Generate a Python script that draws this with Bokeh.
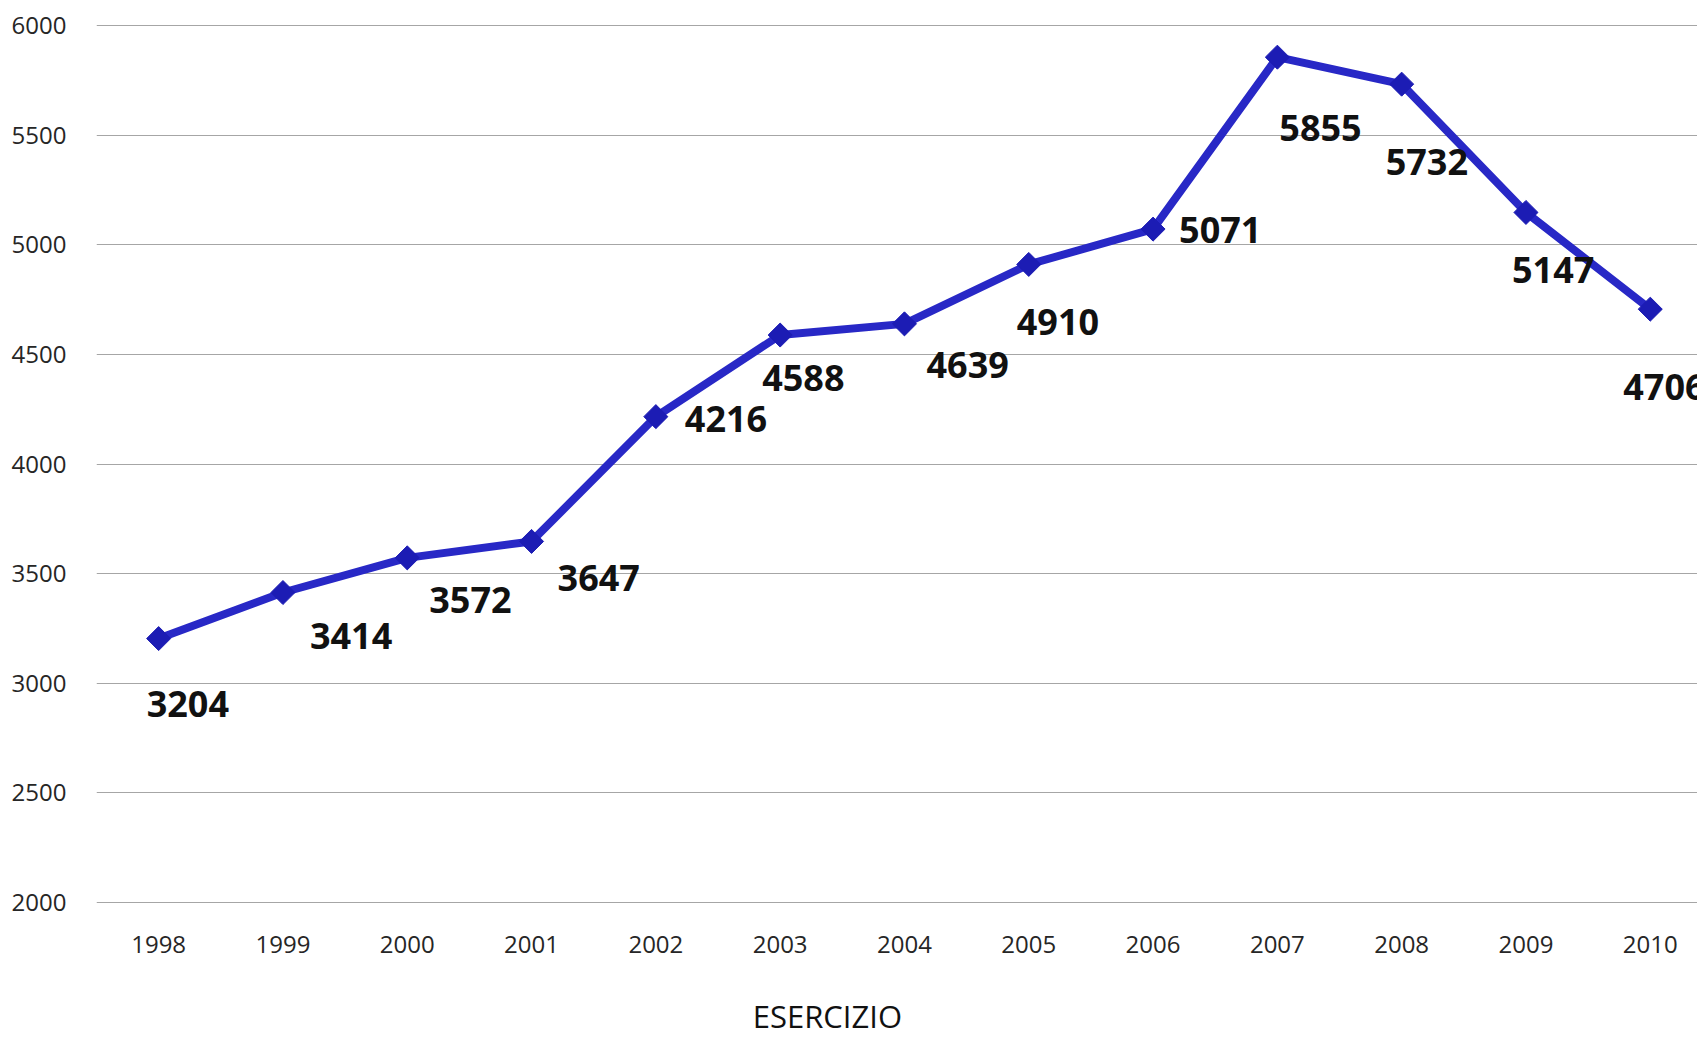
import math
from bokeh.plotting import figure
from bokeh.models import (ColumnDataSource, Range1d, FixedTicker, LinearAxis,
                          CustomJSTickFormatter)
from bokeh.embed import file_html
from bokeh.resources import INLINE
from bokeh.core.properties import value

years = [1998, 1999, 2000, 2001, 2002, 2003, 2004, 2005, 2006, 2007, 2008, 2009, 2010]
values = [3204, 3414, 3572, 3647, 4216, 4588, 4639, 4910, 5071, 5855, 5732, 5147, 4706]
y_ticks = [2000, 2500, 3000, 3500, 4000, 4500, 5000, 5500, 6000]
x_title = "ESERCIZIO"

# label placement (screen px offsets from each point)
lab_dx = [-12, 27, 22, 26, 29, -18, 22, -12, 26, 2, -16, -14, -27]
lab_dy = [65, 43, 42, 37, 2, 43, 41, 58, 1, 71, 78, 58, 78]

src = ColumnDataSource(dict(x=years, y=values, t=[str(v) for v in values],
                            dx=lab_dx, dy=lab_dy))

p = figure(width=1697, height=1039, output_backend="svg", toolbar_location=None,
           x_range=Range1d(1997.5, 2010.38), y_range=Range1d(1996, 6004),
           min_border_left=96, min_border_right=0, min_border_top=24,
           min_border_bottom=136)
p.outline_line_color = None
p.background_fill_color = "white"
p.border_fill_color = "white"

p.xgrid.grid_line_color = None
p.ygrid.grid_line_color = "#a6a6a6"
p.ygrid.grid_line_width = 1.2

p.yaxis.ticker = FixedTicker(ticks=y_ticks)
p.xaxis.ticker = FixedTicker(ticks=years)
for ax in (p.xaxis, p.yaxis):
    ax.axis_line_color = None
    ax.major_tick_line_color = None
    ax.minor_tick_line_color = None
    ax.major_label_text_font = "Open Sans"
    ax.major_label_text_font_size = "24px"
    ax.major_label_text_color = "#262626"
p.yaxis.major_label_standoff = 24
p.xaxis.major_label_standoff = 26

p.line(x="x", y="y", source=src, line_color="#2828C6", line_width=8)
p.scatter(x="x", y="y", source=src, marker="square", size=17, angle=math.pi / 4,
          fill_color="#1C1CB4", line_color="#1C1CB4")

p.text(x="x", y="y", text="t", source=src, x_offset="dx", y_offset="dy",
       text_font=value("Open Sans"), text_font_style="bold", text_font_size="36px",
       text_color="#111111", text_align="left", text_baseline="middle")

# axis title: a second bottom axis with a single labelled tick
title_axis = LinearAxis(ticker=FixedTicker(ticks=[2003.38]),
                        formatter=CustomJSTickFormatter(code="return %r" % x_title),
                        axis_line_color=None, major_tick_line_color=None,
                        minor_tick_line_color=None,
                        major_label_text_font="Open Sans",
                        major_label_text_font_size="31px",
                        major_label_text_color="#111111",
                        major_label_standoff=33)
p.add_layout(title_axis, "below")

open("out.html", "w").write(file_html(p, INLINE))
